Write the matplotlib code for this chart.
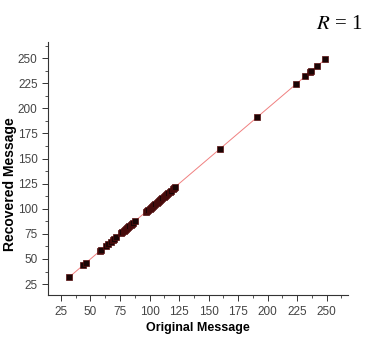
import numpy as np
import matplotlib.pyplot as plt
from matplotlib.ticker import MultipleLocator

plt.rcParams['font.family'] = ['Liberation Sans', 'DejaVu Sans']

# message values (recovered equals original)
original = [32, 44, 46, 58, 59, 63, 65, 67, 69, 70, 72, 76, 77, 78, 79, 80, 81,
            82, 83, 84, 85, 86, 88, 97, 98, 99, 100, 101, 102, 103, 104, 105,
            106, 107, 108, 109, 110, 111, 112, 113, 114, 115, 116, 117, 118,
            120, 121, 122, 160, 191, 224, 232, 236, 237, 242, 249]
recovered = list(original)

fig = plt.figure(figsize=(3.72, 3.42), dpi=100)
ax = fig.add_axes([0.129, 0.137, 0.806, 0.740])

# linear fit line
p = np.polyfit(original, recovered, 1)
xf = np.array([min(original), max(original)])
ax.plot(xf, np.polyval(p, xf), color='#f08080', lw=0.7, zorder=1)
ax.scatter(original, recovered, marker='s', s=20, c='#1a0505',
           edgecolors='#5a0f0f', linewidths=0.5, zorder=2)

ax.set_xlim(14, 268)
ax.set_ylim(14, 266)
ax.xaxis.set_minor_locator(MultipleLocator(12.5))
ax.yaxis.set_minor_locator(MultipleLocator(12.5))
ax.set_xticks(range(25, 251, 25))
ax.set_yticks(range(25, 251, 25))

for s in ['top', 'right']:
    ax.spines[s].set_visible(False)
for s in ['left', 'bottom']:
    ax.spines[s].set_color('#333333')
    ax.spines[s].set_linewidth(0.8)
ax.tick_params(which='major', direction='out', length=4, width=0.7,
               colors='#333333', labelsize=8.5, labelcolor='#444444')
ax.tick_params(which='minor', direction='out', length=2, width=0.6,
               colors='#333333')

ax.set_xlabel('Original Message', fontsize=9, fontweight='bold')
ax.set_ylabel('Recovered Message', fontsize=10, fontweight='bold')
ax.xaxis.set_label_coords(0.5, -0.105)
ax.yaxis.set_label_coords(-0.105, 0.44)

fig.text(0.975, 0.927, '$R$ = 1', ha='right', va='center', fontsize=15,
         family='Liberation Serif', math_fontfamily='stix')

fig.savefig('out.png', dpi=100)
